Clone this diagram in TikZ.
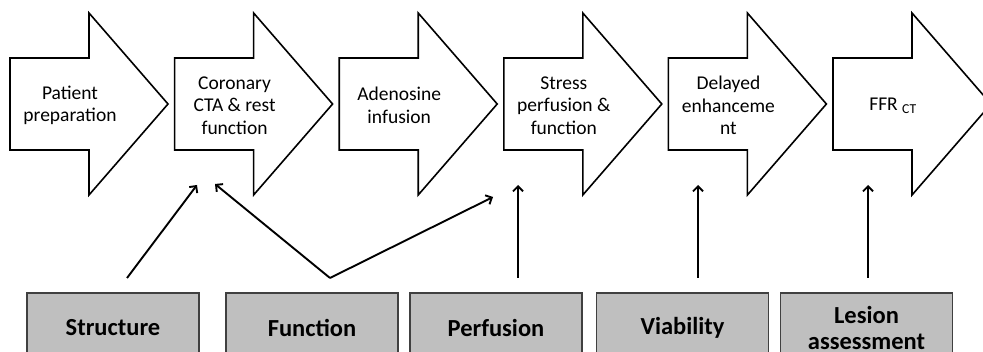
\documentclass[tikz,border=0pt]{standalone}
\usepackage{fontspec}
\setmainfont{Carlito}
\usetikzlibrary{arrows.meta}
\begin{document}
\begin{tikzpicture}[x=1pt,y=-1pt,
  chevline/.style={draw=black,line width=1.6pt,fill=white,line join=miter},
  chevtext/.style={align=center,font=\fontsize{19.5}{22.5}\selectfont,inner sep=0pt},
  stagebox/.style={draw=black!75,line width=1.8pt,fill=black!25,minimum width=172pt,minimum height=69pt,
    align=center,font=\fontsize{24.5}{26}\selectfont\bfseries,inner sep=0pt},
  link/.style={line width=1.9pt,-{Straight Barb[length=5pt,width=10pt,line width=1.9pt]}}]
\useasboundingbox (0,0) rectangle (983,352);
\clip (0,0) rectangle (983,352);
\fill[white] (0,0) rectangle (983,352);
% process chevrons
\foreach \i/\n/\t in {0/c1/{Patient\\preparation},1/c2/{Coronary\\CTA \& rest\\function},2/c3/{Adenosine\\infusion},3/c4/{Stress\\perfusion \&\\function},4/c5/{Delayed\\enhanceme\\nt},5/c6/{FFR \textsubscript{CT}}}{
  \pgfmathsetmacro{\L}{10+164.6*\i}
  \draw[chevline] (\L,58) -- (\L+79,58) -- (\L+79,13) -- (\L+158,104) -- (\L+79,195) -- (\L+79,150) -- (\L,150) -- cycle;
  \node[chevtext] (\n) at (\L+60,105.5) {\t};
}
% modality boxes
\node[stagebox] (structure) at (113,327.5) {Structure};
\node[stagebox] (function) at (312,327.5) {Function};
\node[stagebox] (perfusion) at (496,327.5) {Perfusion};
\node[stagebox] (viability) at (682.5,327.5) {Viability};
\node[stagebox] (lesion) at (866.5,327.5) {Lesion\\assessment};
% connector ends
\coordinate (s1) at (127,278);
\coordinate (s2) at (330,278);
\coordinate (s3) at (518,278);
\coordinate (s4) at (698,278);
\coordinate (s5) at (868,278);
\coordinate (e1) at (197,185);
\coordinate (e2) at (215,184);
\coordinate (e3) at (493,197);
\coordinate (e4) at (518,185);
\coordinate (e5) at (698,185);
\coordinate (e6) at (868,185);
\draw[link] (s1) -- (e1);
\draw[link] (s2) -- (e2);
\draw[link] (s2) -- (e3);
\draw[link] (s3) -- (e4);
\draw[link] (s4) -- (e5);
\draw[link] (s5) -- (e6);
\end{tikzpicture}
\end{document}
